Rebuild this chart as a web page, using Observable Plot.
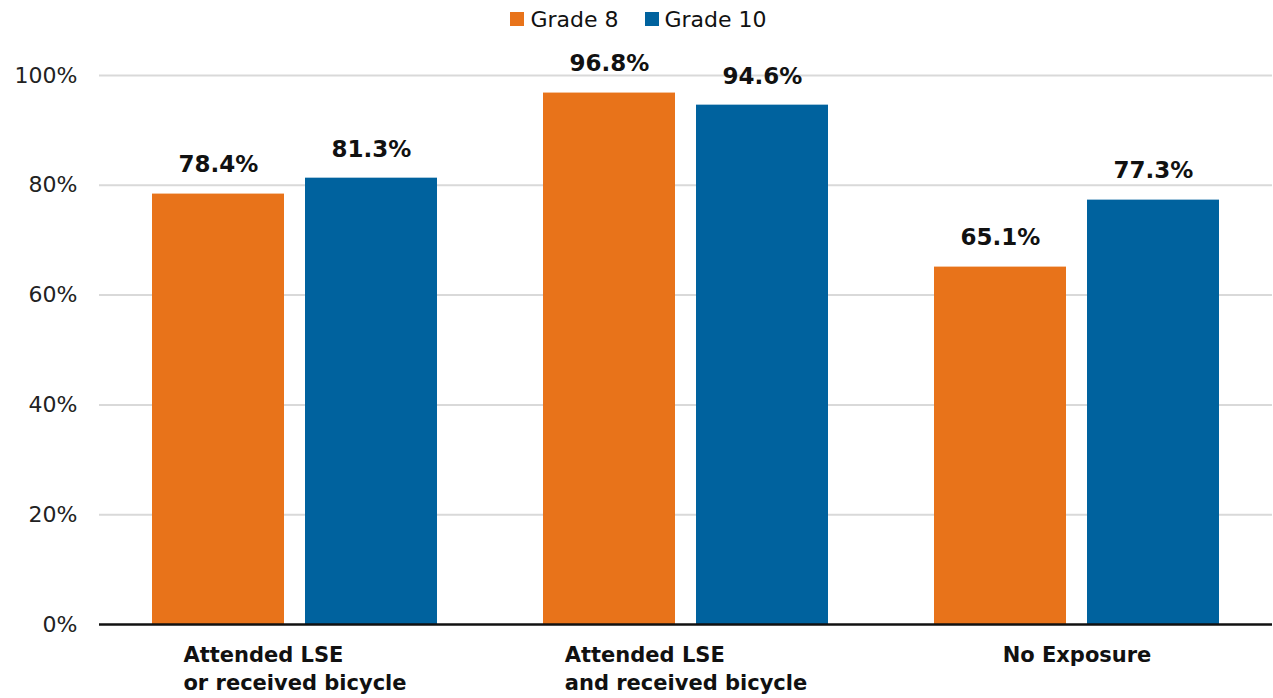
<!DOCTYPE html>
<html>
<head>
<meta charset="utf-8">
<script src="https://cdn.jsdelivr.net/npm/d3@7"></script>
<script src="https://cdn.jsdelivr.net/npm/@observablehq/plot@0.6"></script>
<style>
  body { margin: 0; background: #fff; font-family: "DejaVu Sans", sans-serif; }
  #legend { height: 38px; display: flex; justify-content: center; align-items: center; gap: 26px; font-size: 22px; color: #111; padding-left: 4px; }
  #legend .item { display: flex; align-items: center; gap: 6px; }
  #legend .sw { width: 14px; height: 14px; display: inline-block; }
</style>
</head>
<body>
<div id="legend"></div>
<div id="chart"></div>
<script>
const categories = ["Attended LSE\nor received bicycle", "Attended LSE\nand received bicycle", "No Exposure"];
const grades = ["Grade 8", "Grade 10"];
const grade8 = [78.4, 96.8, 65.1];
const grade10 = [81.3, 94.6, 77.3];
const colors = ["#E8731A", "#00629E"];
const yTicks = [0, 20, 40, 60, 80, 100];

const data = [];
categories.forEach((c, i) => {
  data.push({cat: c, grade: grades[0], value: grade8[i]});
  data.push({cat: c, grade: grades[1], value: grade10[i]});
});

// legend
const legend = document.getElementById("legend");
grades.forEach((g, i) => {
  const it = document.createElement("div");
  it.className = "item";
  it.innerHTML = `<span class="sw" style="background:${colors[i]}"></span><span>${g}</span>`;
  legend.appendChild(it);
});

const labelSize = 21;
const ctx = document.createElement("canvas").getContext("2d");
ctx.font = `bold ${labelSize}px 'DejaVu Sans'`;
const catMarks = categories.map(c => {
  const w = d3.max(c.split("\n"), l => ctx.measureText(l).width);
  return Plot.text([{cat: c}], {
    fx: "cat", text: "cat", frameAnchor: "bottom", textAnchor: "start", lineAnchor: "top",
    dx: -w / 2, dy: 18, lineHeight: 28 / labelSize, fontSize: labelSize, fontWeight: "bold", fill: "#111"
  });
});

const chart = Plot.plot({
  width: 1273,
  height: 660,
  marginLeft: 98,
  marginRight: 0,
  marginTop: 37,
  marginBottom: 74,
  style: {fontFamily: "'DejaVu Sans', sans-serif", overflow: "visible"},
  fx: {domain: categories, padding: 0, axis: null},
  x: {domain: grades, paddingInner: 0.136, paddingOuter: 0.341, axis: null},
  y: {domain: [0, 100], axis: null},
  color: {domain: grades, range: colors},
  marks: [
    Plot.ruleY(yTicks.filter(d => d > 0), {stroke: "#d9d9d9", strokeWidth: 2}),
    Plot.axisY({ticks: yTicks, tickSize: 0, tickPadding: 22, tickFormat: d => d + "%", fontSize: 22, fill: "#222", label: null, facetAnchor: "left"}),
    Plot.barY(data, {fx: "cat", x: "grade", y: "value", fill: "grade"}),
    Plot.text(data, {fx: "cat", x: "grade", y: "value", text: d => d.value.toFixed(1) + "%", dy: -29, fontSize: 23, fontWeight: "bold", fill: "#111"}),
    Plot.ruleY([0], {stroke: "#111", strokeWidth: 2.5}),
    ...catMarks
  ]
});
document.getElementById("chart").appendChild(chart);
</script>
</body>
</html>
